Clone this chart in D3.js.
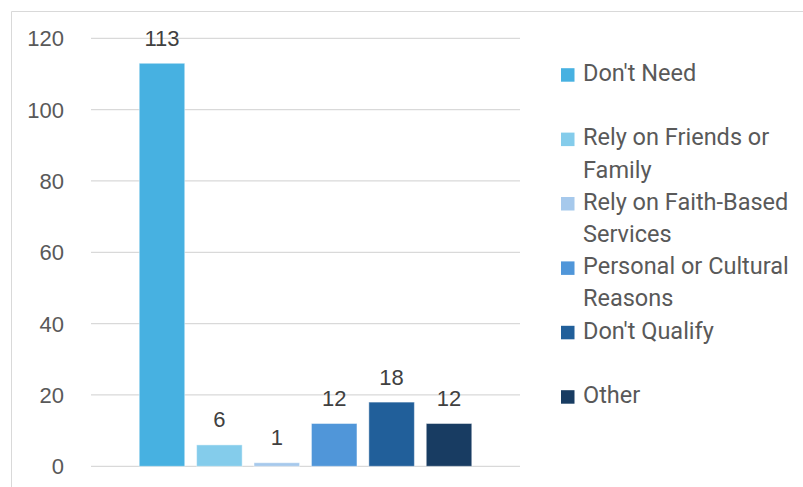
<!DOCTYPE html>
<html>
<head>
<meta charset="utf-8">
<script src="https://cdn.jsdelivr.net/npm/d3@7"></script>
<style>
  html, body { margin: 0; padding: 0; background: #ffffff; }
  svg { display: block; }
</style>
</head>
<body>
<script>
// Reasons given for not using assistance services (count of responses)
const categories = [
  "Don't Need",
  "Rely on Friends or Family",
  "Rely on Faith-Based Services",
  "Personal or Cultural Reasons",
  "Don't Qualify",
  "Other"
];
const values = [113, 6, 1, 12, 18, 12];
const colors = ["#47B1E1", "#84CCEB", "#A6C9EC", "#5096D9", "#215F9A", "#183C62"];
// Legend text, wrapped the way it is shown beside the chart
const legendLines = [
  ["Don't Need"],
  ["Rely on Friends or", "Family"],
  ["Rely on Faith-Based", "Services"],
  ["Personal or Cultural", "Reasons"],
  ["Don't Qualify"],
  ["Other"]
];
const yTicks = [0, 20, 40, 60, 80, 100, 120];

const W = 803, H = 487;
const plot = { left: 91, right: 520, top: 38.3, bottom: 466.3 };

const svg = d3.select("body").append("svg")
  .attr("width", W).attr("height", H);

// Chart-area frame (runs off the right and bottom edges)
svg.append("path")
  .attr("d", `M11.5,${H + 2} V11.5 H${W + 2}`)
  .attr("fill", "none")
  .attr("stroke", "#d9d9d9")
  .attr("stroke-width", 1);

const y = d3.scaleLinear().domain([0, 120]).range([plot.bottom, plot.top]);
const x = d3.scaleBand().domain(categories)
  .range([plot.left, plot.right])
  .paddingInner(0.207)
  .paddingOuter(0.84);

// Horizontal gridlines
svg.append("g").selectAll("line").data(yTicks).join("line")
  .attr("x1", plot.left).attr("x2", plot.right)
  .attr("y1", d => y(d)).attr("y2", d => y(d))
  .attr("stroke", "#d9d9d9").attr("stroke-width", 1.3);

// Y axis labels
const yAxis = d3.axisLeft(y).tickValues(yTicks).tickSize(0).tickPadding(0);
const gy = svg.append("g").attr("transform", "translate(64,0)").call(yAxis);
gy.select(".domain").remove();
gy.selectAll("text")
  .attr("font-family", "'Liberation Sans', Arial, sans-serif")
  .attr("font-size", 22)
  .attr("fill", "#595959")
  .attr("dy", "0.34em");

// Bars
svg.append("g").selectAll("rect").data(values).join("rect")
  .attr("x", (d, i) => x(categories[i]))
  .attr("width", x.bandwidth())
  .attr("y", d => y(d))
  .attr("height", d => y(0) - y(d))
  .attr("fill", (d, i) => colors[i])
  .attr("stroke", "#ffffff").attr("stroke-opacity", 0.45).attr("stroke-width", 1);

// Value labels above bars
svg.append("g").selectAll("text").data(values).join("text")
  .attr("x", (d, i) => x(categories[i]) + x.bandwidth() / 2)
  .attr("y", d => y(d) - 17.5)
  .attr("text-anchor", "middle")
  .attr("font-family", "'Liberation Sans', Arial, sans-serif")
  .attr("font-size", 22)
  .attr("fill", "#404040")
  .text(d => d);

// Legend: each entry takes two text lines
const lineH = 32.2, legendTop = 81, swatchX = 561, textX = 583, sw = 13.5;
const lg = svg.append("g");
legendLines.forEach((lines, i) => {
  const base = legendTop + i * 2 * lineH;
  lg.append("rect")
    .attr("x", swatchX).attr("y", base - 12.8)
    .attr("width", sw).attr("height", sw)
    .attr("fill", colors[i]);
  lines.forEach((t, j) => {
    lg.append("text")
      .attr("x", textX).attr("y", base + j * lineH)
      .attr("font-family", "Roboto, 'Noto Sans', sans-serif")
      .attr("font-size", 23.5)
      .attr("fill", "#595959")
      .text(t);
  });
});
</script>
</body>
</html>
